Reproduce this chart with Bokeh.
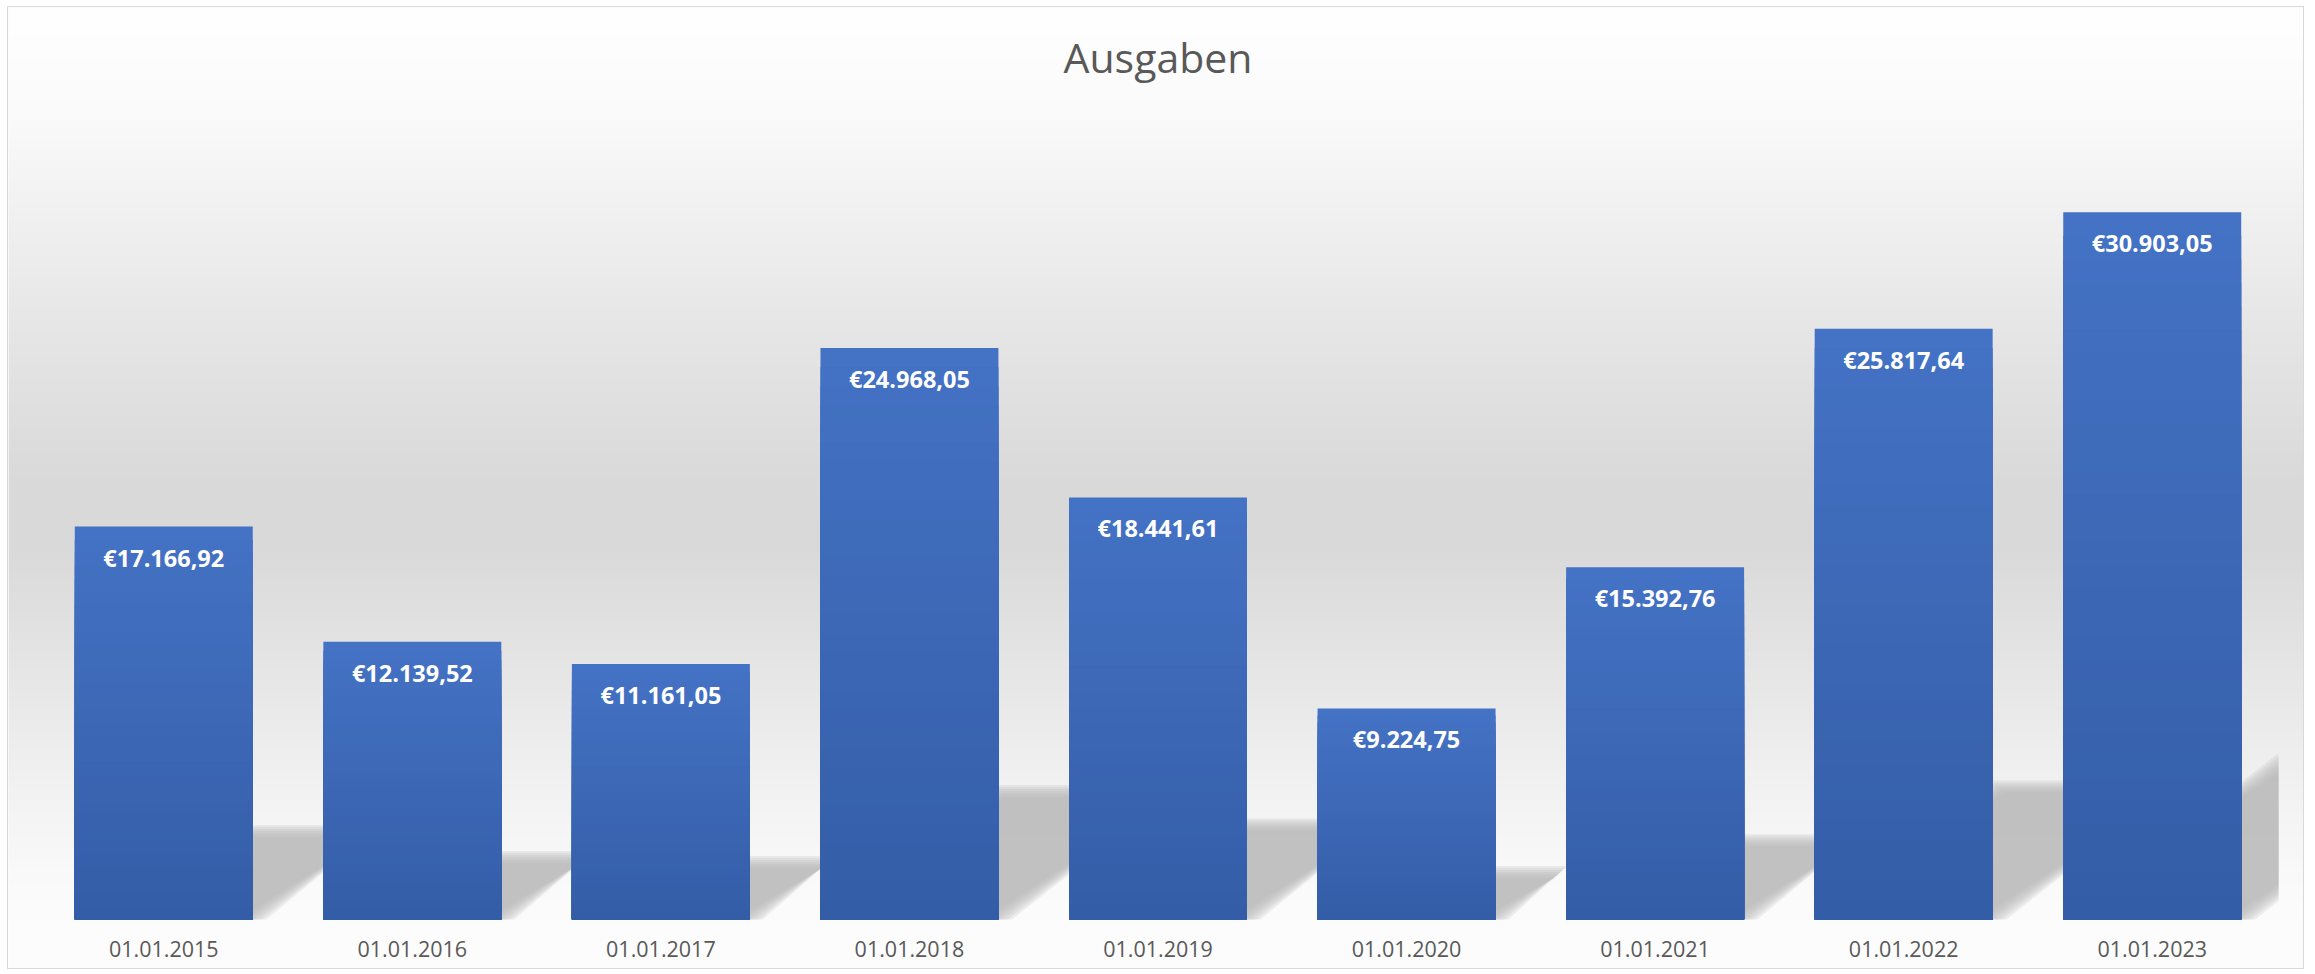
import numpy as np
from bokeh.plotting import figure
from bokeh.models import Range1d, FixedTicker, Label
from bokeh.core.properties import value
from bokeh.embed import file_html
from bokeh.resources import INLINE

# ---- data ----
dates = ["01.01.2015", "01.01.2016", "01.01.2017", "01.01.2018", "01.01.2019",
         "01.01.2020", "01.01.2021", "01.01.2022", "01.01.2023"]
ausgaben = [17166.92, 12139.52, 11161.05, 24968.05, 18441.61,
            9224.75, 15392.76, 25817.64, 30903.05]
y_max = 35000
title_text = "Ausgaben"

def eur(v):
    s = f"{v:,.2f}".replace(",", "X").replace(".", ",").replace("X", ".")
    return "€" + s

labels = [eur(v) for v in ausgaben]
idx = list(range(len(dates)))
n = len(dates)

# ---- layout (page pixels) ----
LEFT, TOP = 8, 7            # canvas origin on page (inside border)
RIGHT = 2305
PLOT_L, PLOT_R = 39, 2276   # Excel plot area
PLOT_T, BASE = 118, 919     # top (=y_max) and baseline
BOTTOM = 970

W = RIGHT - LEFT
MB = BOTTOM - BASE
H = (BASE - TOP) + MB
px_cat = (PLOT_R - PLOT_L) / n
px_val = (BASE - PLOT_T) / y_max
x0r = -0.5 - (PLOT_L - LEFT) / px_cat
x1r = n - 0.5 + (RIGHT - PLOT_R) / px_cat
y1r = (BASE - TOP) / px_val
bar_w = 0.716

p = figure(width=W, height=H, x_range=Range1d(x0r, x1r), y_range=Range1d(0, y1r),
           output_backend="svg", toolbar_location=None,
           min_border_left=0, min_border_right=0, min_border_top=0, min_border_bottom=MB)
p.styles = {"border": "1px solid #d9d9d9", "margin-left": "7px", "margin-top": "6px"}
p.background_fill_color = "#fafafa"
p.border_fill_color = "#fcfcfc"
p.outline_line_color = None
p.grid.visible = False
p.yaxis.visible = False

# ---- background gradient over the chart area ----
rows = 500
stops_px = [7, 60, 120, 180, 330, 490, 540, 650, 760, 800, 880, 919]
stops_c = [255, 253, 250, 244, 230, 217, 217, 228, 239, 243, 250, 252]
vals = (np.arange(rows) + 0.5) / rows * y1r
page_y = BASE - vals * px_val
g = np.interp(page_y, stops_px, stops_c).astype(np.uint32)
img = np.empty((rows, 1), dtype=np.uint32)
img[:, 0] = (255 << 24) | (g << 16) | (g << 8) | g
p.image_rgba(image=[img], x=x0r, y=0, dw=x1r - x0r, dh=y1r)

# ---- shadows (perspective, clipped at plot area right edge) ----
x_clip = n - 0.5 + 2 / px_cat

def clip_right(pts, xc):
    out = []
    for k in range(len(pts)):
        a, b = pts[k], pts[(k + 1) % len(pts)]
        ain, bin_ = a[0] <= xc, b[0] <= xc
        if ain:
            out.append(a)
        if ain != bin_:
            t = (xc - a[0]) / (b[0] - a[0])
            out.append((xc, a[1] + t * (b[1] - a[1])))
    return out

def shadow_polys(expand_px):
    xs, ys = [], []
    ex = expand_px / px_cat
    ey = expand_px / px_val
    for i, v in zip(idx, ausgaben):
        h = 0.225 * v
        s = 1.38 * h * px_val / px_cat
        xa, xb = i - bar_w / 2 - ex, i + bar_w / 2 + ex
        pts = [(xa, -ey), (xb, -ey), (xb + s, h + ey), (xa + s, h + ey)]
        pts = clip_right(pts, x_clip)
        xs.append([q[0] for q in pts])
        ys.append([q[1] for q in pts])
    return xs, ys

for e in [6, 4, 2, 0, -2, -4, -6]:
    xs, ys = shadow_polys(e)
    p.patches(xs=xs, ys=ys, fill_color="#b8b8b8", fill_alpha=0.22, line_color=None)

# ---- bars with vertical gradient ----
top_c = np.array([68, 114, 196])
bot_c = np.array([52, 93, 167])
N = 30
bx, btop, bcol = [], [], []
for k in range(N):
    frac = (N - k) / N
    t = (N - k - 0.5) / N
    c = bot_c + (top_c - bot_c) * t
    hexc = "#%02x%02x%02x" % tuple(int(round(x)) for x in c)
    for i, v in zip(idx, ausgaben):
        bx.append(i)
        btop.append(v * frac)
        bcol.append(hexc)
p.vbar(x=bx, top=btop, bottom=0, width=bar_w, fill_color=bcol, line_color=None)

# ---- data labels ----
p.text(x=idx, y=ausgaben, text=labels, text_align="center", text_baseline="alphabetic",
       y_offset=31, text_color="white", text_font=value("Open Sans"),
       text_font_style="bold", text_font_size="23.5px")

# ---- title ----
p.add_layout(Label(x=(n - 1) / 2, y=(BASE - 56) / px_val, text=title_text,
                   text_align="center", text_baseline="alphabetic",
                   text_font="Open Sans", text_font_size="41px",
                   text_color="#595959"))

# ---- axis ----
ax = p.xaxis[0]
ax.ticker = FixedTicker(ticks=idx)
ax.major_label_overrides = {i: d for i, d in zip(idx, dates)}
ax.major_tick_out = 0
ax.major_tick_in = 0
ax.minor_tick_out = 0
ax.minor_tick_in = 0
ax.axis_line_color = None
ax.major_label_text_font = "Open Sans"
ax.major_label_text_font_size = "21.5px"
ax.major_label_text_color = "#595959"
ax.major_label_standoff = 21

open("out.html", "w").write(file_html(p, INLINE))
